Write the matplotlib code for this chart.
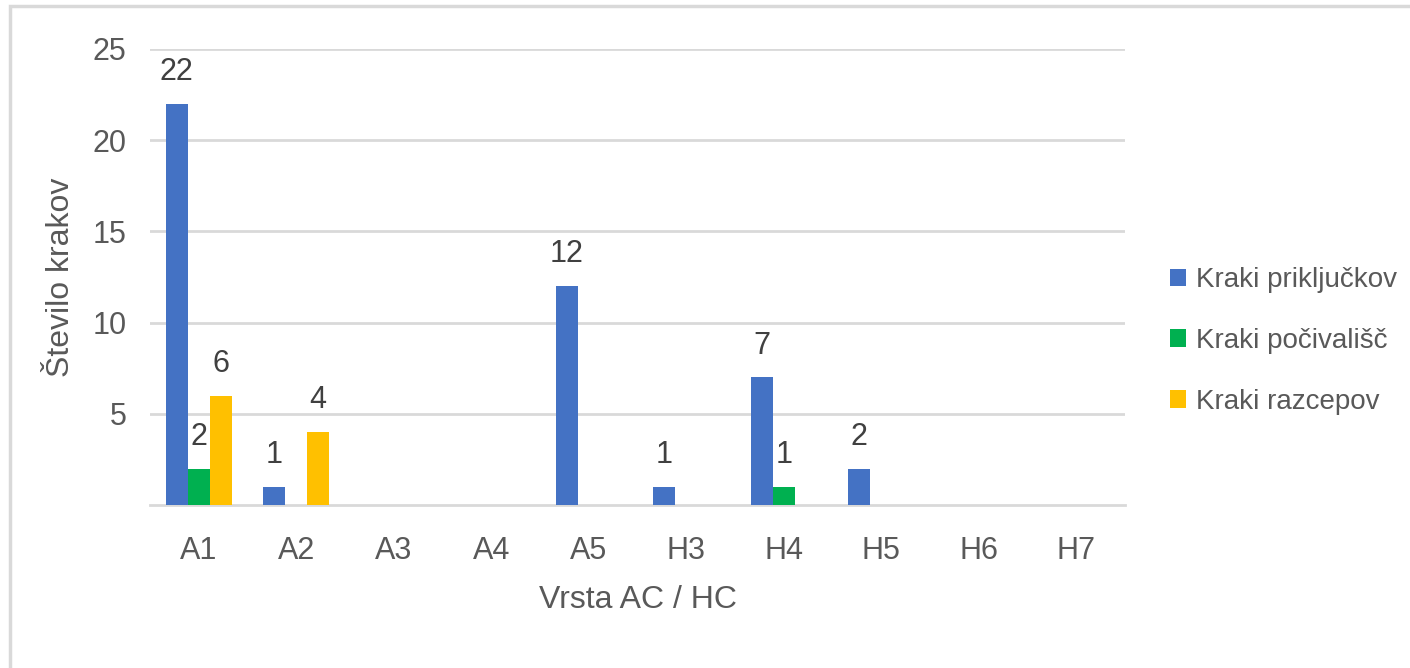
import numpy as np
import matplotlib.pyplot as plt
from matplotlib.patches import Rectangle

plt.rcParams['font.family'] = ['Liberation Sans Narrow', 'Liberation Sans', 'DejaVu Sans']

categories = ['A1', 'A2', 'A3', 'A4', 'A5', 'H3', 'H4', 'H5', 'H6', 'H7']
prikljucki = [22, 1, 0, 0, 12, 1, 7, 2, 0, 0]
pocivalisca = [2, 0, 0, 0, 0, 0, 1, 0, 0, 0]
razcepi = [6, 4, 0, 0, 0, 0, 0, 0, 0, 0]
series = [
    ('Kraki priključkov', prikljucki, '#4472C4'),
    ('Kraki počivališč', pocivalisca, '#00B050'),
    ('Kraki razcepov', razcepi, '#FFC000'),
]

fig = plt.figure(figsize=(14.1, 6.68), dpi=100)
ax = fig.add_axes([150 / 1410, 163 / 668, 975 / 1410, 456 / 668])

x = np.arange(len(categories))
w = 0.225
for i, (name, vals, col) in enumerate(series):
    pos = x + (i - 1) * w
    ax.bar(pos, vals, width=w, color=col, label=name, zorder=3)
    for p, v in zip(pos, vals):
        if v > 0:
            ax.annotate(str(v), (p, v), xytext=(0, 12), textcoords='offset points',
                        ha='center', va='bottom', fontsize=22, color='#404040')

ax.set_xlim(-0.5, len(categories) - 0.5)
ax.set_ylim(0, 25)
ax.set_yticks([5, 10, 15, 20, 25])
ax.set_xticks(x)
ax.set_xticklabels(categories)
ax.tick_params(axis='both', length=0, labelsize=22, labelcolor='#595959')
ax.tick_params(axis='y', pad=17)
ax.tick_params(axis='x', pad=22)
ax.grid(axis='y', color='#D9D9D9', linewidth=2, zorder=0)
for s in ['left', 'right', 'top']:
    ax.spines[s].set_visible(False)
ax.spines['bottom'].set_color('#D9D9D9')
ax.spines['bottom'].set_linewidth(2)

ax.set_xlabel('Vrsta AC / HC', fontsize=23, color='#595959', labelpad=14)
ax.set_ylabel('Število krakov', fontsize=23, color='#595959', labelpad=12)

ax.legend(loc='center left', bbox_to_anchor=(1.02, 0.36), frameon=False,
          fontsize=20, labelcolor='#595959', handlelength=0.6, handleheight=0.6,
          handletextpad=0.35, labelspacing=1.25)

# chart frame
fig.patches.append(Rectangle((10 / 1410, -0.1), 1.2, 1.1 - 6 / 668,
                             transform=fig.transFigure, fill=False,
                             edgecolor='#D9D9D9', linewidth=2.5))

fig.savefig('out.png', dpi=100)
